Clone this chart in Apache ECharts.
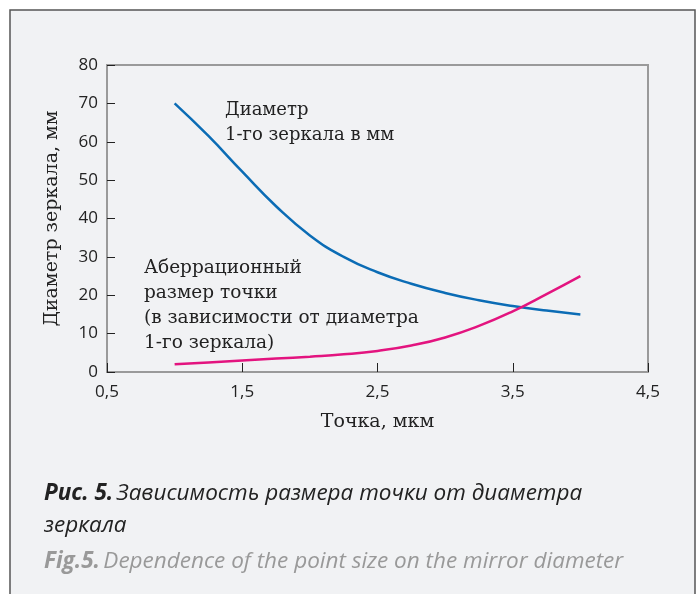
<!DOCTYPE html>
<html>
<head>
<meta charset="utf-8">
<title>Диаметр зеркала</title>
<script src="https://cdn.jsdelivr.net/npm/echarts@6/dist/echarts.min.js"></script>
<style>
  html, body { margin: 0; padding: 0; background: #ffffff; }
  #chart { width: 698px; height: 594px; }
</style>
</head>
<body>
<div id="chart"></div>
<script>
// x values, мкм
const xPoints = [1.0, 1.25, 1.5, 1.75, 2.0, 2.25, 2.5, 2.75, 3.0, 3.25, 3.5, 3.75, 4.0];
// diameter of the 1st mirror, mm
const diameterValues = [70, 61.5, 52.2, 43.2, 35.6, 30.0, 26.0, 23.0, 20.6, 18.7, 17.2, 16.0, 15];
// aberration spot size
const spotValues = [2, 2.5, 3, 3.5, 4, 4.6, 5.5, 6.9, 9, 12, 15.8, 20.3, 25];
const xTicks = [0.5, 1.5, 2.5, 3.5, 4.5];
const yTicks = [0, 10, 20, 30, 40, 50, 60, 70, 80];

const serif = '"DejaVu Serif", "Liberation Serif", serif';
const sans = '"Open Sans", "Noto Sans", sans-serif';

const chart = echarts.init(document.getElementById('chart'));

const pairs = (vals) => xPoints.map((x, i) => [x, vals[i]]);

chart.setOption({
  backgroundColor: '#ffffff',
  animation: false,
  grid: {
    left: 107, right: 50, top: 65, bottom: 222,
    show: true, borderColor: '#9a9a9a', borderWidth: 2
  },
  xAxis: {
    type: 'value',
    min: xTicks[0],
    max: xTicks[xTicks.length - 1],
    interval: 1,
    name: 'Точка, мкм',
    nameLocation: 'middle',
    nameGap: 41,
    nameTextStyle: { fontFamily: serif, fontSize: 19, color: '#222' },
    axisLine: { lineStyle: { color: '#9a9a9a', width: 2 } },
    axisTick: { inside: true, length: 9, lineStyle: { color: '#222', width: 1 } },
    axisLabel: {
      margin: 12, fontFamily: sans, fontSize: 17, color: '#222',
      formatter: (v) => String(v).replace('.', ',')
    },
    splitLine: { show: false }
  },
  yAxis: {
    type: 'value',
    min: yTicks[0],
    max: yTicks[yTicks.length - 1],
    interval: 10,
    name: 'Диаметр зеркала, мм',
    nameLocation: 'middle',
    nameGap: 45,
    nameTextStyle: { fontFamily: serif, fontSize: 19, color: '#222' },
    axisLine: { show: true, lineStyle: { color: '#9a9a9a', width: 2 } },
    axisTick: { show: true, inside: true, length: 8, lineStyle: { color: '#222', width: 1 } },
    axisLabel: { margin: 9, fontFamily: sans, fontSize: 17, color: '#222' },
    splitLine: { show: false }
  },
  series: [
    {
      name: 'Диаметр 1-го зеркала в мм',
      type: 'line',
      data: pairs(diameterValues),
      smooth: 0.5,
      showSymbol: false,
      lineStyle: { color: '#0b6cb5', width: 2.5 },
      z: 3
    },
    {
      name: 'Аберрационный размер точки',
      type: 'line',
      data: pairs(spotValues),
      smooth: 0.5,
      showSymbol: false,
      lineStyle: { color: '#e3147f', width: 2.5 },
      z: 4
    }
  ],
  graphic: [
    {
      type: 'rect', z: -10, silent: true,
      shape: { x: 10, y: 10, width: 685, height: 600 },
      style: { fill: '#f1f2f4', stroke: '#555', lineWidth: 1.5 }
    },
    {
      type: 'text', left: 225, top: 98, silent: true,
      style: {
        text: 'Диаметр\n1-го зеркала в мм',
        font: '18px ' + serif, fill: '#222', lineHeight: 25
      }
    },
    {
      type: 'text', left: 144, top: 256, silent: true,
      style: {
        text: 'Аберрационный\nразмер точки\n(в зависимости от диаметра\n1-го зеркала)',
        font: '18.5px ' + serif, fill: '#222', lineHeight: 25
      }
    },
    {
      type: 'text', left: 44, top: 482, silent: true,
      style: {
        text: '{b|Рис. 5.} {i|Зависимость размера точки от диаметра}\n{i|зеркала}',
        rich: {
          b: { fontFamily: sans, fontSize: 22.5, fontWeight: 'bold', fontStyle: 'italic', fill: '#222', lineHeight: 32 },
          i: { fontFamily: sans, fontSize: 22.5, fontStyle: 'italic', fill: '#222', lineHeight: 32 }
        }
      }
    },
    {
      type: 'text', left: 44, top: 550, silent: true,
      style: {
        text: '{b|Fig.5.} {i|Dependence of the point size on the mirror diameter}',
        rich: {
          b: { fontFamily: sans, fontSize: 22.5, fontWeight: 'bold', fontStyle: 'italic', fill: '#999', lineHeight: 30 },
          i: { fontFamily: sans, fontSize: 22.5, fontStyle: 'italic', fill: '#999', lineHeight: 30 }
        }
      }
    }
  ]
});
</script>
</body>
</html>
